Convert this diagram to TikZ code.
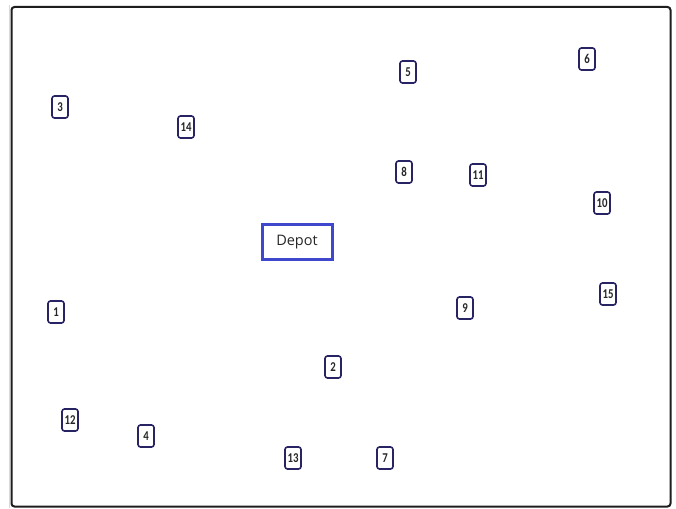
\documentclass[tikz,border=0pt]{standalone}
\usepackage{fontspec}
\newfontfamily\numfont[FakeStretch=0.8]{Carlito}
\newfontfamily\depotfont{Open Sans}
\definecolor{navy}{RGB}{40,36,100}
\definecolor{depotblue}{RGB}{63,72,204}
\definecolor{framec}{RGB}{30,30,30}
\begin{document}
\begin{tikzpicture}[x=1pt,y=-1pt,
  cust/.style={draw=navy, line width=1.6pt, rounded corners=2.5pt, fill=white,
    minimum width=16pt, minimum height=22pt, inner sep=2pt,
    font=\numfont\bfseries\fontsize{13.5}{13.5}\selectfont, text=black!85},
  depotbox/.style={draw=depotblue, line width=3pt, fill=white,
    minimum width=70pt, minimum height=35pt, inner sep=0pt,
    font=\depotfont\fontsize{14.5}{14.5}\selectfont, text=black!85}]
\useasboundingbox (0,0) rectangle (676,508);
\fill[white] (0,0) rectangle (676,508);
\draw[black!15, line width=1pt] (9.5,5) -- (9.5,508);
\draw[framec, line width=2pt, rounded corners=3pt] (11.5,7) rectangle (670.5,506.5);
\node[depotbox] (depot) at (297,242) {Depot};
\node[cust] (n3) at (60,107) {3};
\node[cust] (n14) at (186,127) {14};
\node[cust] (n5) at (408,72) {5};
\node[cust] (n6) at (587,59) {6};
\node[cust] (n8) at (404,172) {8};
\node[cust] (n11) at (478,175) {11};
\node[cust] (n10) at (602,203) {10};
\node[cust] (n1) at (56,312) {1};
\node[cust] (n15) at (608,294) {15};
\node[cust] (n9) at (465,308) {9};
\node[cust] (n2) at (333,367) {2};
\node[cust] (n12) at (70,420) {12};
\node[cust] (n4) at (146,436) {4};
\node[cust] (n13) at (293,458) {13};
\node[cust] (n7) at (385,458) {7};
\end{tikzpicture}
\end{document}
